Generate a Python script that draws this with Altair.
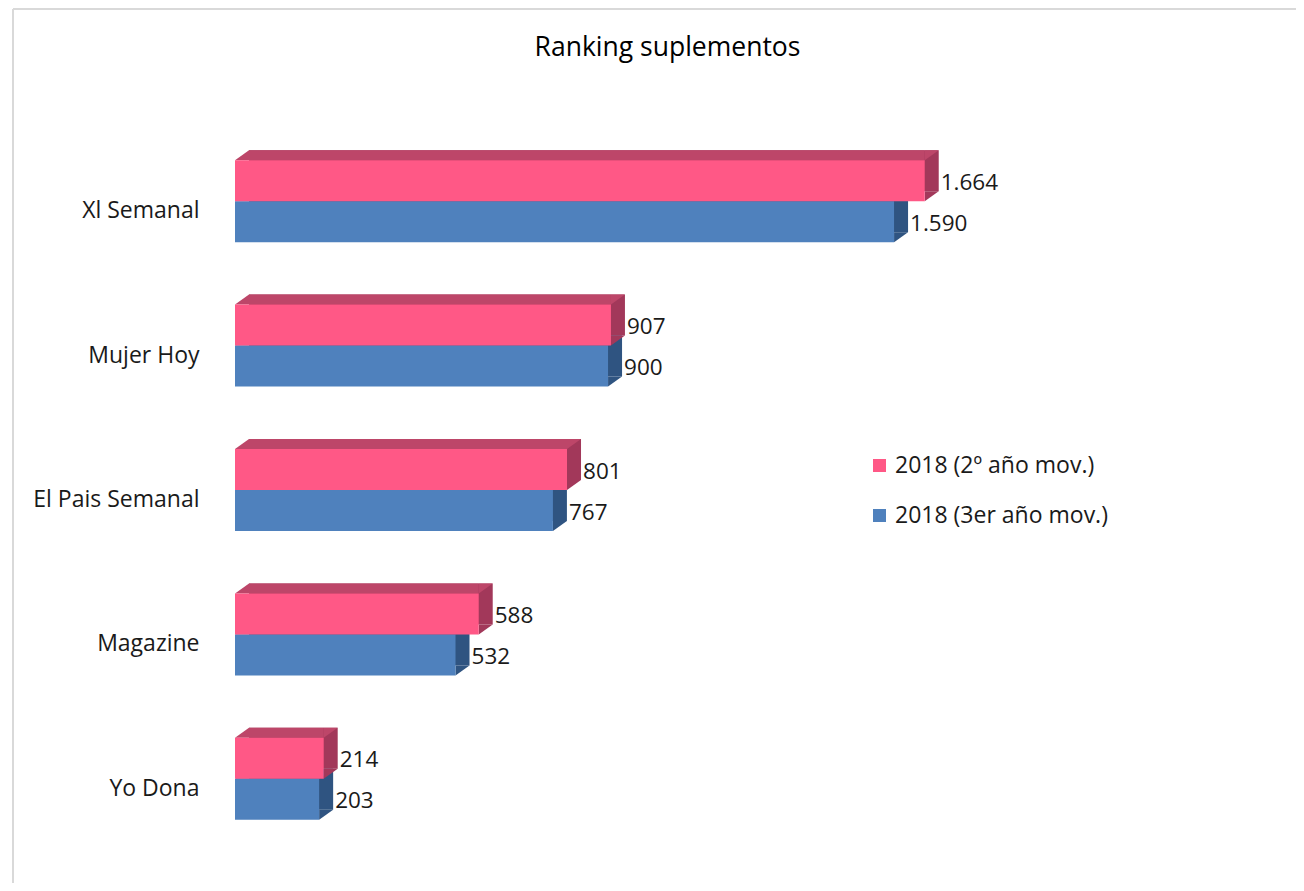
import altair as alt
import pandas as pd

categories = ["Xl Semanal", "Mujer Hoy", "El Pais Semanal", "Magazine", "Yo Dona"]
series_names = ["2018 (2º año mov.)", "2018 (3er año mov.)"]
values_2o = [1664, 907, 801, 588, 214]
values_3er = [1590, 900, 767, 532, 203]

rows = []
for s, vals in zip(series_names, [values_2o, values_3er]):
    for c, v in zip(categories, vals):
        rows.append({"category": c, "series": s, "value": v,
                     "label": f"{v:,}".replace(",", ".")})
df = pd.DataFrame(rows)

FONT = "Open Sans"
PINK = ["#FF5886", "#BD4669", "#A2385A"]   # front, top, side
BLUE = ["#4F81BD", "#3A6496", "#2F5481"]

H = 41      # bar thickness
DX, DY = 14, 10  # 3D depth
TRI_UL = "M-1,-0.714L1,-0.714L-1,0.714Z"
TRI_LR = "M1,-0.714L1,0.714L-1,0.714Z"

yenc = alt.Y("category:N", sort=categories,
             scale=alt.Scale(domain=categories, paddingInner=0.4, paddingOuter=0.2),
             axis=alt.Axis(title=None, domain=False, ticks=False, labelPadding=36,
                           labelOffset=10, labelFont=FONT, labelFontSize=23,
                           labelColor="#1a1a1a", labelFontWeight="normal"))
xscale = alt.Scale(domain=[0, 2000])
xenc = alt.X("value:Q", scale=xscale, axis=None)
xzero = alt.X("zero:Q", scale=xscale, axis=None)
x2zero = alt.X2("zero:Q")
color_enc = alt.Color("series:N",
                      scale=alt.Scale(domain=series_names, range=[PINK[0], BLUE[0]]),
                      legend=alt.Legend(title=None, orient="none", legendX=633, legendY=325,
                                        symbolType="square", symbolSize=169,
                                        symbolStrokeWidth=0, labelFont=FONT,
                                        labelFontSize=23, labelColor="#1a1a1a",
                                        labelLimit=0, rowPadding=26, labelOffset=4))

base = alt.Chart(df).encode(y=yenc).transform_calculate(zero="0")


def series_layers(name, c, cols):
    front, top, side = cols
    b = base.transform_filter(alt.datum.series == name)
    ftop = c - H / 2
    back = b.mark_bar(height=H, color=side, xOffset=DX, x2Offset=DX,
                      yOffset=c - DY).encode(x=xenc, x2=x2zero)
    strip = b.mark_bar(height=DY, color=top, x2Offset=DX,
                       yOffset=ftop - DY / 2).encode(x=xenc, x2=x2zero)
    tri_top_r = b.mark_point(shape=TRI_UL, size=196, filled=True, opacity=1,
                             strokeWidth=0, color=top, xOffset=DX / 2,
                             yOffset=ftop - DY / 2).encode(x=xenc)
    tri_top_l = b.mark_point(
        shape=TRI_LR, size=196, filled=True, opacity=1, strokeWidth=0, color=top,
        xOffset=DX / 2, yOffset=ftop - DY / 2).encode(x=xzero)
    tri_side = b.mark_point(shape=TRI_UL, size=196, filled=True, opacity=1,
                            strokeWidth=0, color=side, xOffset=DX / 2,
                            yOffset=c + H / 2 - DY / 2).encode(x=xenc)
    face = b.mark_bar(height=H, yOffset=c).encode(x=xenc, x2=x2zero, color=color_enc)
    return [back, strip, tri_top_r, tri_top_l, tri_side, face]


def text_layer(name, off):
    b = base.transform_filter(alt.datum.series == name)
    return b.mark_text(align="left", baseline="middle", xOffset=DX + 2, yOffset=off,
                       font=FONT, fontSize=22.5, color="#1a1a1a").encode(x=xenc, text="label:N")


frame_df = pd.DataFrame({"f": [0]})
frame_left = alt.Chart(frame_df).mark_rule(color="#D9D9D9", strokeWidth=2).encode(
    x=alt.value(-222), y=alt.value(-120), y2=alt.value(760))
frame_top = alt.Chart(frame_df).mark_rule(color="#D9D9D9", strokeWidth=2).encode(
    x=alt.value(-222), x2=alt.value(1070), y=alt.value(-120))

layers = [frame_left, frame_top]
layers += series_layers(series_names[1], H / 2, BLUE)
layers += series_layers(series_names[0], -H / 2, PINK)
layers += [text_layer(series_names[0], -H / 2 + 2), text_layer(series_names[1], H / 2 + 2)]

chart = alt.layer(*layers).properties(
    width=829, height=722,
    autosize="none",
    padding={"left": 227, "top": 121, "right": 232, "bottom": 32},
    title=alt.TitleParams("Ranking suplementos", font=FONT, fontSize=26.5,
                          fontWeight="normal", color="#000000", anchor="middle",
                          frame="group", offset=68, dx=18, dy=121),
).configure(background="white").configure_view(stroke=None)

chart.save("out.html", embed_options={"renderer": "svg", "actions": False})
